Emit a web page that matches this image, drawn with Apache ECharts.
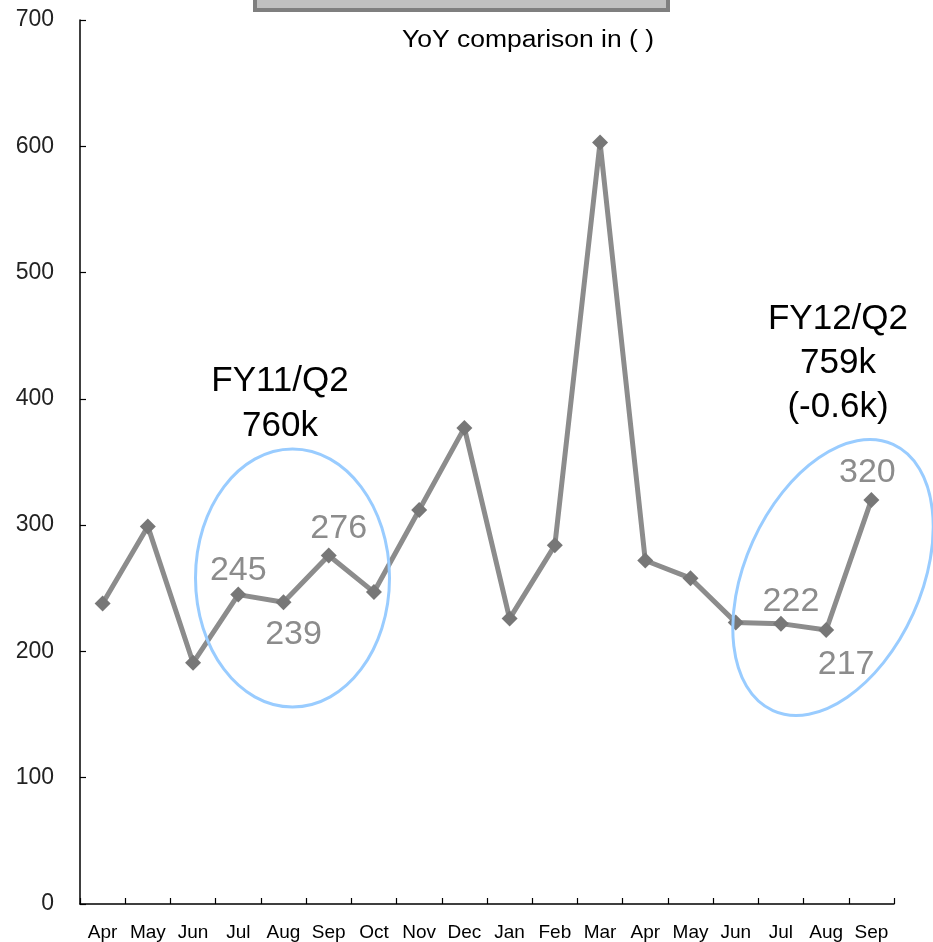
<!DOCTYPE html>
<html>
<head>
<meta charset="utf-8">
<script src="https://cdn.jsdelivr.net/npm/echarts@6/dist/echarts.min.js"></script>
<style>
  html, body { margin: 0; padding: 0; background: #fff; }
  #chart { width: 933px; height: 942px; }
</style>
</head>
<body>
<div id="chart"></div>
<script>
// Monthly figures (thousands), FY11 Apr through FY12 Sep
const months = ['Apr','May','Jun','Jul','Aug','Sep','Oct','Nov','Dec','Jan','Feb','Mar','Apr','May','Jun','Jul','Aug','Sep'];
const values = [238, 299, 191, 245, 239, 276, 247, 312, 377, 226, 284, 603, 272, 258, 223, 222, 217, 320];
const yTicks = [0, 100, 200, 300, 400, 500, 600, 700];

// Quarter callouts
const q2Prev = ['FY11/Q2', '760k'];
const q2Curr = ['FY12/Q2', '759k', '(-0.6k)'];
const yoyNote = 'YoY comparison in ( )';

// Which points carry a value label, and where the label sits
const labelPlacement = {
  3: { position: 'top', offset: [0, 9] },
  4: { position: 'bottom', offset: [10, -1] },
  5: { position: 'top', offset: [10, 6] },
  15: { position: 'top', offset: [10, 11] },
  16: { position: 'bottom', offset: [20, 2] },
  17: { position: 'top', offset: [-4, 6] }
};

const textFont = 'Liberation Sans, Arial, sans-serif';

const seriesData = values.map((v, i) => {
  const p = labelPlacement[i];
  if (!p) return { value: v };
  return {
    value: v,
    label: {
      show: true,
      position: p.position,
      offset: p.offset,
      distance: 8,
      fontSize: 34,
      color: '#8c8c8c',
      fontFamily: textFont
    }
  };
});

const chart = echarts.init(document.getElementById('chart'), null, { renderer: 'canvas' });

function calloutText(lines, cx, top, gap) {
  return lines.map((t, i) => ({
    type: 'text',
    x: cx,
    y: top + i * gap,
    style: {
      text: t,
      fill: '#000',
      font: '35px ' + textFont,
      textAlign: 'center',
      textVerticalAlign: 'middle'
    },
    z: 10
  }));
}

chart.setOption({
  animation: false,
  backgroundColor: '#fff',
  grid: { left: 80, right: 39, top: 20, bottom: 38, containLabel: false },
  xAxis: {
    type: 'category',
    data: months,
    boundaryGap: true,
    axisLine: { lineStyle: { color: '#000', width: 1.5 } },
    axisTick: { show: true, inside: true, length: 6, alignWithLabel: false, lineStyle: { color: '#000', width: 1.2 } },
    axisLabel: { color: '#000', fontSize: 19, margin: 19, fontFamily: textFont, interval: 0 },
    splitLine: { show: false }
  },
  yAxis: {
    type: 'value',
    min: yTicks[0],
    max: yTicks[yTicks.length - 1],
    interval: 100,
    axisLine: { show: true, lineStyle: { color: '#000', width: 1.5 } },
    axisTick: { show: true, inside: true, length: 6, lineStyle: { color: '#000', width: 1.2 } },
    axisLabel: { color: '#222', fontSize: 23, margin: 26, fontFamily: textFont },
    splitLine: { show: false }
  },
  series: [{
    type: 'line',
    data: seriesData,
    symbol: 'diamond',
    symbolSize: 16,
    lineStyle: { color: '#8c8c8c', width: 5 },
    itemStyle: { color: '#777777' },
    label: { show: false },
    z: 3
  }],
  graphic: [
    // Partially visible grey panel at the very top
    {
      type: 'rect',
      shape: { x: 255, y: -20, width: 413, height: 30 },
      style: { fill: '#c0c0c0', stroke: '#7f7f7f', lineWidth: 4 },
      z: 5
    },
    {
      type: 'text',
      x: 528,
      y: 41,
      scaleX: 1.15,
      style: { text: yoyNote, fill: '#000', font: '23px ' + textFont, textAlign: 'center', textVerticalAlign: 'middle' },
      z: 5
    },
    // Circle round FY11 Q2
    {
      type: 'ellipse',
      shape: { cx: 292.5, cy: 578, rx: 97, ry: 129 },
      style: { fill: 'none', stroke: '#99ccff', lineWidth: 3 },
      z: 6
    },
    // Tilted circle round FY12 Q2
    {
      type: 'ellipse',
      x: 833, y: 577.5,
      rotation: -0.424,
      shape: { cx: 0, cy: 0, rx: 88, ry: 146 },
      style: { fill: 'none', stroke: '#99ccff', lineWidth: 3 },
      z: 6
    }
  ]
    .concat(calloutText(q2Prev, 280, 381, 45))
    .concat(calloutText(q2Curr, 838, 319, 44))
});
</script>
</body>
</html>
